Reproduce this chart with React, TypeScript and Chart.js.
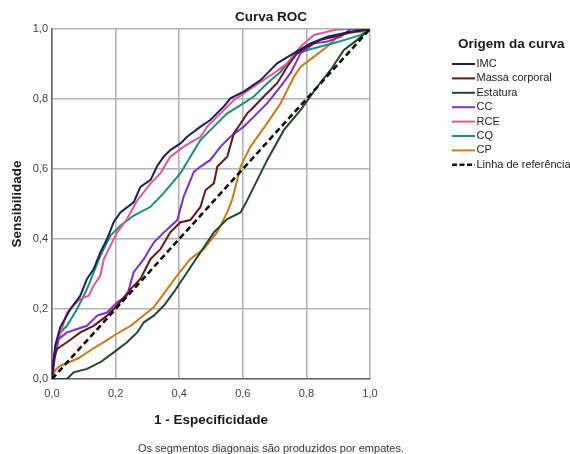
import React, { useEffect, useRef } from 'react';
import { Chart, registerables } from 'chart.js';
Chart.register(...registerables);

const chartTitle = 'Curva ROC';
const xAxisTitle = '1 - Especificidade';
const yAxisTitle = 'Sensibilidade';
const legendTitle = 'Origem da curva';
const footnote = 'Os segmentos diagonais são produzidos por empates.';

const tickValues = [0, 0.2, 0.4, 0.6, 0.8, 1.0];
const tickLabels = ['0,0', '0,2', '0,4', '0,6', '0,8', '1,0'];

const imcX = [0, .01, .026, .058, .089, .11, .131, .152, .173, .194, .215, .257, .278, .31, .33, .351, .372, .404, .425, .467, .498, .54, .561, .603, .656, .708, .761, .813, .866, .939, 1];
const imcY = [0, .095, .148, .2, .238, .286, .314, .362, .4, .448, .476, .505, .549, .569, .607, .635, .654, .673, .692, .721, .74, .778, .802, .821, .854, .902, .931, .959, .978, .992, 1];

const massaX = [0, .005, .016, .047, .089, .131, .173, .205, .247, .278, .31, .341, .372, .404, .435, .467, .483, .509, .52, .551, .572, .593, .614, .635, .666, .708, .74, .771, .803, .845, .887, .929, 1];
const massaY = [0, .057, .086, .105, .133, .152, .181, .21, .257, .286, .343, .371, .419, .448, .454, .492, .54, .559, .607, .635, .702, .73, .759, .778, .807, .845, .893, .931, .95, .969, .978, .988, 1];

const estaturaX = [0, .047, .068, .11, .152, .194, .236, .268, .289, .32, .352, .383, .425, .467, .509, .551, .593, .614, .677, .729, .782, .834, .876, .918, .96, 1];
const estaturaY = [0, 0, .019, .029, .048, .076, .105, .133, .162, .181, .21, .248, .305, .362, .419, .457, .476, .511, .626, .711, .769, .835, .883, .94, .969, 1];

const ccX = [0, .01, .021, .047, .079, .11, .142, .173, .205, .236, .257, .289, .32, .352, .394, .414, .446, .467, .498, .53, .561, .603, .645, .677, .719, .75, .782, .824, .866, .908, .939, 1];
const ccY = [0, .067, .114, .133, .143, .152, .181, .19, .219, .238, .305, .343, .39, .419, .454, .521, .592, .607, .626, .664, .692, .721, .759, .788, .836, .874, .931, .959, .964, .978, 1, 1];

const rceX = [0, .005, .021, .047, .068, .089, .115, .131, .152, .163, .184, .205, .236, .268, .31, .341, .372, .414, .467, .488, .53, .572, .635, .698, .74, .782, .824, .887, .929, 1];
const rceY = [0, .067, .114, .19, .21, .229, .238, .267, .295, .343, .381, .419, .457, .51, .559, .588, .635, .664, .692, .721, .759, .797, .836, .874, .902, .95, .983, .997, 1, 1];

const cqX = [0, .005, .01, .026, .047, .079, .11, .152, .184, .215, .257, .31, .351, .404, .435, .467, .509, .551, .603, .635, .677, .719, .761, .803, .845, .887, .929, .971, 1];
const cqY = [0, .048, .086, .133, .152, .2, .257, .352, .41, .438, .467, .492, .531, .588, .635, .683, .721, .759, .788, .807, .845, .878, .926, .94, .95, .96, .971, .983, 1];

const cpX = [0, .01, .026, .047, .084, .126, .168, .205, .247, .283, .32, .362, .393, .435, .477, .519, .551, .567, .593, .624, .677, .719, .761, .782, .824, .866, .897, .929, .97, 1];
const cpY = [0, .026, .038, .045, .06, .085, .108, .13, .152, .178, .205, .257, .295, .343, .371, .419, .476, .514, .607, .664, .731, .788, .864, .892, .921, .95, .978, .992, .992, 1];

const refX = [0, 1];
const refY = [0, 1];

const seriesLabels = ['IMC', 'Massa corporal', 'Estatura', 'CC', 'RCE', 'CQ', 'CP', 'Linha de referência'];
const seriesColors = ['#1c1f5c', '#6b1518', '#1f4a2a', '#7a2fd8', '#e4559a', '#1a8f7c', '#d07818', '#111111'];
const seriesXs = [imcX, massaX, estaturaX, ccX, rceX, cqX, cpX, refX];
const seriesYs = [imcY, massaY, estaturaY, ccY, rceY, cqY, cpY, refY];

const FONT = '"Liberation Sans", Arial, sans-serif';

const extraText = {
  id: 'extraText',
  afterDraw(chart: any) {
    const ctx = chart.ctx;
    ctx.save();
    ctx.fillStyle = '#1a1a1a';
    ctx.textBaseline = 'middle';
    ctx.textAlign = 'center';
    ctx.font = `bold 13.5px ${FONT}`;
    ctx.fillText(chartTitle, 271, 17);
    ctx.font = `11px ${FONT}`;
    ctx.fillStyle = '#333';
    ctx.fillText(footnote, 271, 449);
    ctx.textAlign = 'left';
    ctx.fillStyle = '#1a1a1a';
    ctx.font = `bold 13.5px ${FONT}`;
    ctx.fillText(legendTitle, 458, 44);
    ctx.font = `11px ${FONT}`;
    seriesLabels.forEach((lab, i) => {
      const y = 64 + i * 14.4;
      ctx.strokeStyle = seriesColors[i];
      ctx.lineWidth = i === 7 ? 2.5 : 2;
      ctx.setLineDash(i === 7 ? [5, 2.5] : []);
      ctx.beginPath();
      ctx.moveTo(452, y);
      ctx.lineTo(475, y);
      ctx.stroke();
      ctx.setLineDash([]);
      ctx.fillStyle = '#222';
      ctx.fillText(lab, 476.5, y);
    });
    ctx.restore();
  },
};

export default function App() {
  const ref = useRef<HTMLCanvasElement>(null);
  useEffect(() => {
    const datasets = seriesLabels.map((lab, i) => ({
      label: lab,
      data: seriesXs[i].map((x, j) => ({ x, y: seriesYs[i][j] })),
      borderColor: seriesColors[i],
      backgroundColor: seriesColors[i],
      borderWidth: i === 7 ? 2.6 : 2,
      borderDash: i === 7 ? [6, 3.5] : [],
      pointRadius: 0,
      tension: 0,
      fill: false,
      order: i === 7 ? 0 : 1,
    }));
    const axisTicks = (scale: any) => {
      scale.ticks = tickValues.map((v) => ({ value: v }));
    };
    const chart = new Chart(ref.current!, {
      type: 'line',
      data: { datasets },
      plugins: [extraText],
      options: {
        animation: false,
        responsive: false,
        layout: { padding: { top: 29, right: 200, left: 0, bottom: 0 } },
        plugins: { legend: { display: false }, tooltip: { enabled: false }, title: { display: false } },
        scales: {
          x: {
            type: 'linear',
            min: 0,
            max: 1,
            afterBuildTicks: axisTicks,
            afterFit: (s: any) => { s.height = 75; },
            grid: { color: '#b3b3b3', lineWidth: 1.6, drawTicks: false },
            border: { color: '#6a6a6a', width: 1.6 },
            ticks: {
              padding: 8,
              color: '#444',
              font: { size: 11, family: FONT },
              maxRotation: 0,
              callback: (_v: any, i: number) => tickLabels[i],
            },
            title: {
              display: true,
              text: xAxisTitle,
              color: '#1a1a1a',
              font: { size: 13.5, weight: 'bold', family: FONT },
              padding: { top: 0, bottom: 26 },
            },
          },
          y: {
            type: 'linear',
            min: 0,
            max: 1,
            afterBuildTicks: axisTicks,
            afterFit: (s: any) => { s.width = 52; },
            grid: { color: '#b3b3b3', lineWidth: 1.6, drawTicks: false },
            border: { color: '#6a6a6a', width: 1.6 },
            ticks: {
              padding: 4,
              color: '#444',
              font: { size: 11, family: FONT },
              callback: (_v: any, i: number) => tickLabels[i],
            },
            title: {
              display: true,
              text: yAxisTitle,
              color: '#1a1a1a',
              font: { size: 13.5, weight: 'bold', family: FONT },
              padding: { top: 9, bottom: 0 },
            },
          },
        },
      },
    });
    return () => chart.destroy();
  }, []);
  return (
    <div style={{ position: 'fixed', left: 0, top: 0, width: 570, height: 454, background: '#fff' }}>
      <canvas ref={ref} width={570} height={454} style={{ width: 570, height: 454, display: 'block' }} />
    </div>
  );
}
